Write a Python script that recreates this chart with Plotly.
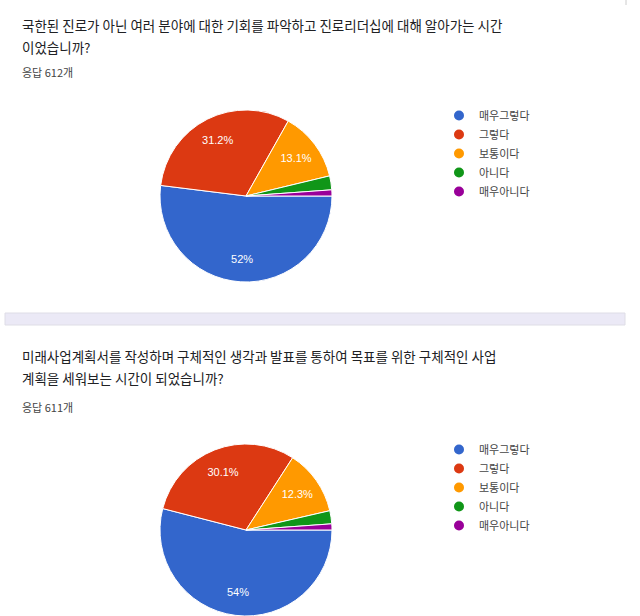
import plotly.graph_objects as go

W, H = 640, 616

categories = ["매우그렇다", "그렇다", "보통이다", "아니다", "매우아니다"]
colors = ["#3366cc", "#dc3912", "#ff9900", "#109618", "#990099"]

q1_title_lines = [
    "국한된 진로가 아닌 여러 분야에 대한 기회를 파악하고 진로리더십에 대해 알아가는 시간",
    "이었습니까?",
]
q1_counts = [318, 191, 80, 16, 7]

q2_title_lines = [
    "미래사업계획서를 작성하며 구체적인 생각과 발표를 통하여 목표를 위한 구체적인 사업",
    "계획을 세워보는 시간이 되었습니까?",
]
q2_counts = [330, 184, 75, 15, 7]

KR = "Noto Sans CJK KR"


def pct_labels(counts):
    total = sum(counts)
    out = []
    for c in counts:
        p = c / total * 100
        s = f"{p:.1f}"
        if s.endswith(".0"):
            s = s[:-2]
        out.append(s + "%" if p >= 5 else "")
    return out


def py(px):
    return 1 - px / H


def px_(x):
    return x / W


fig = go.Figure()

R = 86
sections = [
    dict(counts=q1_counts, lines=q1_title_lines, cx=246, cy=196,
         ty=[25, 47], ry=72, legend="legend", ly=101),
    dict(counts=q2_counts, lines=q2_title_lines, cx=246, cy=530,
         ty=[356, 378], ry=407, legend="legend2", ly=435),
]

annotations = []
layout_legends = {}
for s in sections:
    dom = dict(x=[px_(s["cx"] - R), px_(s["cx"] + R)],
               y=[max(0, py(s["cy"] + R)), py(s["cy"] - R)])
    # visible pie slices
    fig.add_trace(go.Pie(
        labels=categories,
        values=s["counts"],
        textinfo="none",
        marker=dict(colors=colors, line=dict(color="white", width=1)),
        sort=False,
        direction="clockwise",
        rotation=90,
        showlegend=False,
        hoverinfo="label+value+percent",
        domain=dom,
    ))
    # transparent ring carrying the percentage labels (places them toward the rim)
    fig.add_trace(go.Pie(
        labels=categories,
        values=s["counts"],
        text=pct_labels(s["counts"]),
        textinfo="text",
        textposition="inside",
        insidetextorientation="horizontal",
        textfont=dict(family="Liberation Sans, Arial", size=11, color="white"),
        marker=dict(colors=["rgba(0,0,0,0)"] * len(categories), line=dict(width=0)),
        hole=0.46,
        sort=False,
        direction="clockwise",
        rotation=90,
        showlegend=False,
        hoverinfo="skip",
        domain=dom,
    ))
    for cat, col in zip(categories, colors):
        fig.add_trace(go.Scatter(
            x=[None], y=[None], mode="markers", name=cat,
            marker=dict(color=col, size=10, symbol="circle"),
            legend=s["legend"], showlegend=True, hoverinfo="skip",
        ))
    layout_legends[s["legend"]] = dict(
        x=px_(439), y=py(s["ly"]), xanchor="left", yanchor="top",
        font=dict(family=KR, size=11, color="#444444"),
        bgcolor="rgba(0,0,0,0)", borderwidth=0,
        itemclick=False, itemdoubleclick=False,
    )
    for line, yy in zip(s["lines"], s["ty"]):
        annotations.append(dict(
            x=px_(20), y=py(yy), xref="paper", yref="paper",
            xanchor="left", yanchor="middle", showarrow=False,
            text=line, font=dict(family=KR, size=13.5, color="#202124"),
        ))
    annotations.append(dict(
        x=px_(20), y=py(s["ry"]), xref="paper", yref="paper",
        xanchor="left", yanchor="middle", showarrow=False,
        text=f"응답 {sum(s['counts'])}개",
        font=dict(family=KR, size=11, color="#444444"),
    ))

shapes = [
    dict(type="rect", xref="paper", yref="paper",
         x0=px_(5), x1=px_(625), y0=py(325), y1=py(313),
         fillcolor="#ebe9f6", line=dict(color="#dedde6", width=1), layer="below"),
    dict(type="line", xref="paper", yref="paper",
         x0=px_(626), x1=px_(626), y0=py(0), y1=py(5),
         line=dict(color="#cccccc", width=1)),
]

fig.update_layout(
    width=W, height=H,
    margin=dict(l=0, r=0, t=0, b=0),
    paper_bgcolor="white", plot_bgcolor="white",
    xaxis=dict(visible=False), yaxis=dict(visible=False),
    annotations=annotations, shapes=shapes,
    **layout_legends,
)

fig.write_html("out.html", config={"displayModeBar": False},
               post_script="document.body.style.margin='0';")
